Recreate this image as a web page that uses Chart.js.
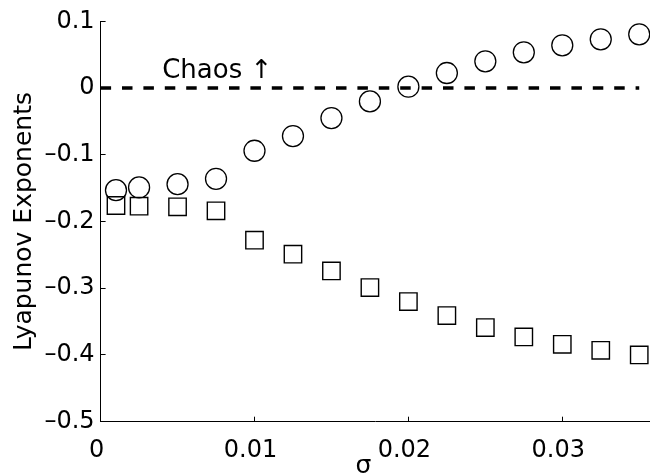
<!DOCTYPE html>
<html>
<head>
<meta charset="utf-8">
<script src="https://cdn.jsdelivr.net/npm/chart.js@4/dist/chart.umd.min.js"></script>
<style>
  html, body { margin: 0; padding: 0; background: #ffffff; }
  #wrap { width: 650px; height: 474px; position: relative; }
</style>
</head>
<body>
<div id="wrap"><canvas id="c"></canvas></div>
<script>
// ---- data ----
const sigma = [0.001, 0.0025, 0.005, 0.0075, 0.01, 0.0125, 0.015, 0.0175, 0.02, 0.0225, 0.025, 0.0275, 0.03, 0.0325, 0.035];
const lyapMax = [-0.153, -0.149, -0.144, -0.136, -0.094, -0.072, -0.045, -0.020, 0.002, 0.0225, 0.040, 0.0535, 0.064, 0.073, 0.0805];
const lyapSecond = [-0.176, -0.177, -0.178, -0.184, -0.228, -0.249, -0.274, -0.299, -0.320, -0.341, -0.359, -0.373, -0.384, -0.393, -0.400];
const zeroLineX = [0, 0.035];
const zeroLineY = [0, 0];
const xTicks = [0, 0.01, 0.02, 0.03];
const xTickLabels = ["0", "0.01", "0.02", "0.03"];
const yTicks = [-0.5, -0.4, -0.3, -0.2, -0.1, 0, 0.1];
const yTickLabels = ["\u20130.5", "\u20130.4", "\u20130.3", "\u20130.2", "\u20130.1", "0", "0.1"];
const chaosLabel = "Chaos \u2191";
const chaosAnchor = { x: 0.004, y: 0.015 };

const FONT = "'DejaVu Sans', sans-serif";

const chaosPlugin = {
  id: 'chaosText',
  afterDatasetsDraw(chart) {
    const { ctx, scales } = chart;
    ctx.save();
    ctx.font = "26px " + FONT;
    ctx.fillStyle = '#000';
    ctx.textAlign = 'left';
    ctx.textBaseline = 'alphabetic';
    ctx.fillText(chaosLabel, scales.x.getPixelForValue(chaosAnchor.x), scales.y.getPixelForValue(chaosAnchor.y));
    ctx.restore();
  }
};

new Chart(document.getElementById('c'), {
  type: 'scatter',
  data: {
    datasets: [
      {
        label: 'zero',
        type: 'line',
        data: zeroLineX.map((x, i) => ({ x, y: zeroLineY[i] })),
        borderColor: '#000',
        borderWidth: 3.5,
        borderDash: [10.5, 10.9],
        borderCapStyle: 'butt',
        pointRadius: 0,
        fill: false,
        clip: false
      },
      {
        label: 'largest',
        data: sigma.map((x, i) => ({ x, y: lyapMax[i] })),
        pointStyle: 'circle',
        pointRadius: 10.5,
        pointBorderWidth: 1.3,
        pointBorderColor: '#000',
        pointBackgroundColor: 'rgba(0,0,0,0)',
        clip: false
      },
      {
        label: 'second',
        data: sigma.map((x, i) => ({ x, y: lyapSecond[i] })),
        pointStyle: 'rect',
        pointRadius: 12.3,
        pointBorderWidth: 1.4,
        pointBorderColor: '#000',
        pointBackgroundColor: 'rgba(0,0,0,0)',
        clip: false
      }
    ]
  },
  options: {
    responsive: true,
    maintainAspectRatio: false,
    animation: false,
    events: [],
    layout: { autoPadding: false, padding: { top: 21.3, right: 0, bottom: 0, left: 0 } },
    plugins: { legend: { display: false }, tooltip: { enabled: false } },
    scales: {
      x: {
        type: 'linear',
        position: 'bottom',
        min: 0,
        max: 0.0357,
        afterBuildTicks: (s) => { s.ticks = xTicks.map(v => ({ value: v })); },
        afterFit: (s) => { s.height = 52.3; s.paddingLeft = 0; s.paddingRight = 0; s.paddingTop = 0; s.paddingBottom = 0; },
        grid: { display: true, drawOnChartArea: false, drawTicks: true, tickLength: -5, color: '#000', lineWidth: 1 },
        border: { display: true, color: '#000', width: 1 },
        ticks: {
          color: '#000',
          font: { family: FONT, size: 24 },
          padding: 20,
          labelOffset: -4,
          maxRotation: 0,
          autoSkip: false,
          callback: (v, i) => xTickLabels[i]
        },
        title: {
          display: true,
          text: 'σ   ',
          color: '#000',
          font: { family: FONT, size: 25, lineHeight: 0.6 },
          padding: 0
        }
      },
      y: {
        type: 'linear',
        min: -0.5,
        max: 0.1,
        afterBuildTicks: (s) => { s.ticks = yTicks.map(v => ({ value: v })); },
        afterFit: (s) => { s.width = 100.6; s.paddingLeft = 0; s.paddingRight = 0; s.paddingTop = 0; s.paddingBottom = 0; },
        grid: { display: true, drawOnChartArea: false, drawTicks: true, tickLength: -5, color: '#000', lineWidth: 1 },
        border: { display: true, color: '#000', width: 1 },
        ticks: {
          color: '#000',
          font: { family: FONT, size: 24 },
          padding: 11,
          autoSkip: false,
          callback: (v, i) => yTickLabels[i]
        },
        title: {
          display: true,
          text: 'Lyapunov Exponents',
          color: '#000',
          font: { family: FONT, size: 25, lineHeight: 1 },
          padding: { top: 11.5, bottom: 0 }
        }
      }
    }
  },
  plugins: [chaosPlugin]
});
</script>
</body>
</html>
